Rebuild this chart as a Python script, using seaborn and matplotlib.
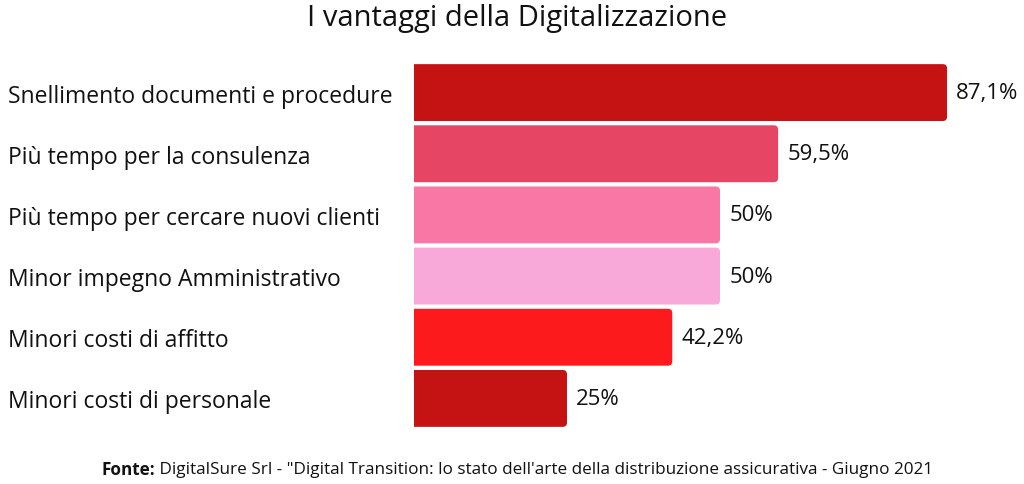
import matplotlib
matplotlib.use("Agg")
import matplotlib.pyplot as plt
from matplotlib.patches import FancyBboxPatch
import seaborn as sns
import pandas as pd

# data
categories = [
    "Snellimento documenti e procedure",
    "Più tempo per la consulenza",
    "Più tempo per cercare nuovi clienti",
    "Minor impegno Amministrativo",
    "Minori costi di affitto",
    "Minori costi di personale",
]
values = [87.1, 59.5, 50, 50, 42.2, 25]
value_labels = ["87,1%", "59,5%", "50%", "50%", "42,2%", "25%"]
bar_colors = ["#C51212", "#E64564", "#F877A4", "#F8A9D9", "#FC1A1C", "#C51212"]

sns.set_theme(style="white")
plt.rcParams["font.family"] = ["Open Sans", "DejaVu Sans"]

df = pd.DataFrame({"categoria": categories, "valore": values})

fig = plt.figure(figsize=(10.24, 4.85), dpi=100)
ax = fig.add_axes([414 / 1024, 1 - 430 / 485, 612 / 1024, 367 / 485])

sns.barplot(data=df, x="valore", y="categoria", hue="categoria",
            palette=bar_colors, saturation=1, width=0.93, legend=False, ax=ax)
ax.set_xlim(0, 100)

# swap bars for slightly rounded ones
for patch in list(ax.patches):
    x, y = patch.get_x(), patch.get_y()
    w, h = patch.get_width(), patch.get_height()
    fc = patch.get_facecolor()
    patch.remove()
    rb = FancyBboxPatch((x - 2, y), w + 2, h,
                        boxstyle="round,pad=0,rounding_size=0.7",
                        mutation_aspect=0.1, facecolor=fc,
                        edgecolor="none", clip_on=True)
    ax.add_patch(rb)

for i, (v, lab) in enumerate(zip(values, value_labels)):
    ax.text(v + 1.5, i, lab, va="center", ha="left", fontsize=16, color="#111111")

sns.despine(ax=ax, left=True, bottom=True)
ax.set_xticks([])
ax.set_xlabel("")
ax.set_ylabel("")
ax.tick_params(axis="y", length=0, pad=292, labelsize=16.5, labelcolor="#111111")
for t in ax.get_yticklabels():
    t.set_ha("left")

fig.text(0.505, 0.962, "I vantaggi della Digitalizzazione", ha="center", va="center",
         fontsize=21, color="#111111")

# footer: bold "Fonte:" + normal text, centred together
fig.canvas.draw()
r = fig.canvas.get_renderer()
t1 = fig.text(0, 0.03, "Fonte:", fontweight="bold", fontsize=12.3, va="center", color="#111111")
t2 = fig.text(0, 0.03, " DigitalSure Srl - \"Digital Transition: lo stato dell'arte della distribuzione assicurativa - Giugno 2021",
              fontsize=12.3, va="center", color="#111111")
w1 = t1.get_window_extent(r).width / 1024
w2 = t2.get_window_extent(r).width / 1024
x0 = 0.505 - (w1 + w2) / 2
t1.set_x(x0)
t2.set_x(x0 + w1)

fig.savefig("out.png", dpi=100, facecolor="white")
